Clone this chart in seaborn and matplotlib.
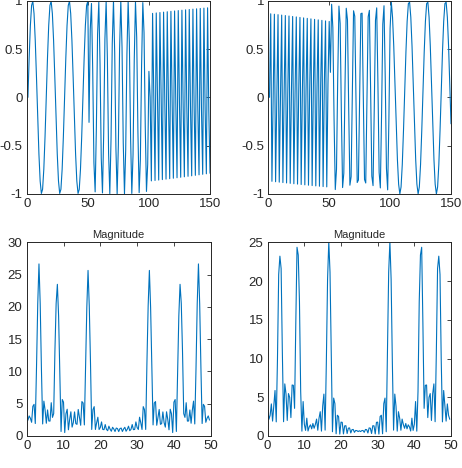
import numpy as np
import seaborn as sns
import matplotlib.pyplot as plt
from matplotlib.ticker import FuncFormatter

## Three 1 s pieces (50 samples each, fs = 50) put one after another,
## then the magnitude of the FFT of the whole thing.

fs = 50
seg_len = 50

# piece frequencies (Hz) and start phases (deg)
freqs_left = [3.333, 8.25, 16.69]
phases_left = [0, 345, 180]
freqs_right = [16.69, 8.25, 3.333]
phases_right = [0, 15, 100]

ylim_mag = [30, 25]

blue = "#0072BD"
dark = "#262626"


def make_signal(freqs, phases):
    t = np.arange(seg_len) / fs
    parts = [np.sin(2 * np.pi * f * t + np.deg2rad(p)) for f, p in zip(freqs, phases)]
    return np.concatenate(parts)


sig_left = make_signal(freqs_left, phases_left)
sig_right = make_signal(freqs_right, phases_right)
n = len(sig_left)
idx = np.arange(1, n + 1)
freq = np.arange(n) * fs / n
mag_left = np.abs(np.fft.fft(sig_left))
mag_right = np.abs(np.fft.fft(sig_right))

sns.set_style("white")
plt.rcParams["font.family"] = ["Liberation Sans", "DejaVu Sans"]

fig = plt.figure(figsize=(4.62, 4.68), dpi=100)
ax_tl = fig.add_axes([0.0578, 0.5855, 0.3968, 0.4130])
ax_tr = fig.add_axes([0.5807, 0.5855, 0.3955, 0.4130])
ax_bl = fig.add_axes([0.0578, 0.0684, 0.3983, 0.4139])
ax_br = fig.add_axes([0.5794, 0.0684, 0.3968, 0.4139])

sns.lineplot(x=idx, y=sig_left, ax=ax_tl, color=blue, lw=0.8, estimator=None)
sns.lineplot(x=idx, y=sig_right, ax=ax_tr, color=blue, lw=0.8, estimator=None)
sns.lineplot(x=freq, y=mag_left, ax=ax_bl, color=blue, lw=0.8, estimator=None)
sns.lineplot(x=freq, y=mag_right, ax=ax_br, color=blue, lw=0.8, estimator=None)

for ax in (ax_tl, ax_tr):
    ax.set_xlim(0, 150)
    ax.set_ylim(-1, 1)
    ax.set_xticks([0, 50, 100, 150])
    ax.set_yticks([-1, -0.5, 0, 0.5, 1])

for ax, top in zip((ax_bl, ax_br), ylim_mag):
    ax.set_xlim(0, 50)
    ax.set_ylim(0, top)
    ax.set_xticks(range(0, 51, 10))
    ax.set_yticks(range(0, top + 1, 5))
    ax.set_title("Magnitude", fontsize=8, color=dark, pad=3)

for ax in (ax_tl, ax_tr, ax_bl, ax_br):
    ax.xaxis.set_major_formatter(FuncFormatter(lambda v, p: f"{v:g}"))
    ax.yaxis.set_major_formatter(FuncFormatter(lambda v, p: f"{v:g}"))
    ax.tick_params(direction="in", top=True, right=True, length=3, width=0.6,
                   labelsize=9.5, colors=dark, pad=3)
    for s in ax.spines.values():
        s.set_visible(True)
        s.set_linewidth(0.7)
        s.set_color(dark)
    ax.set_xlabel("")
    ax.set_ylabel("")

fig.savefig("out.png", dpi=100)
